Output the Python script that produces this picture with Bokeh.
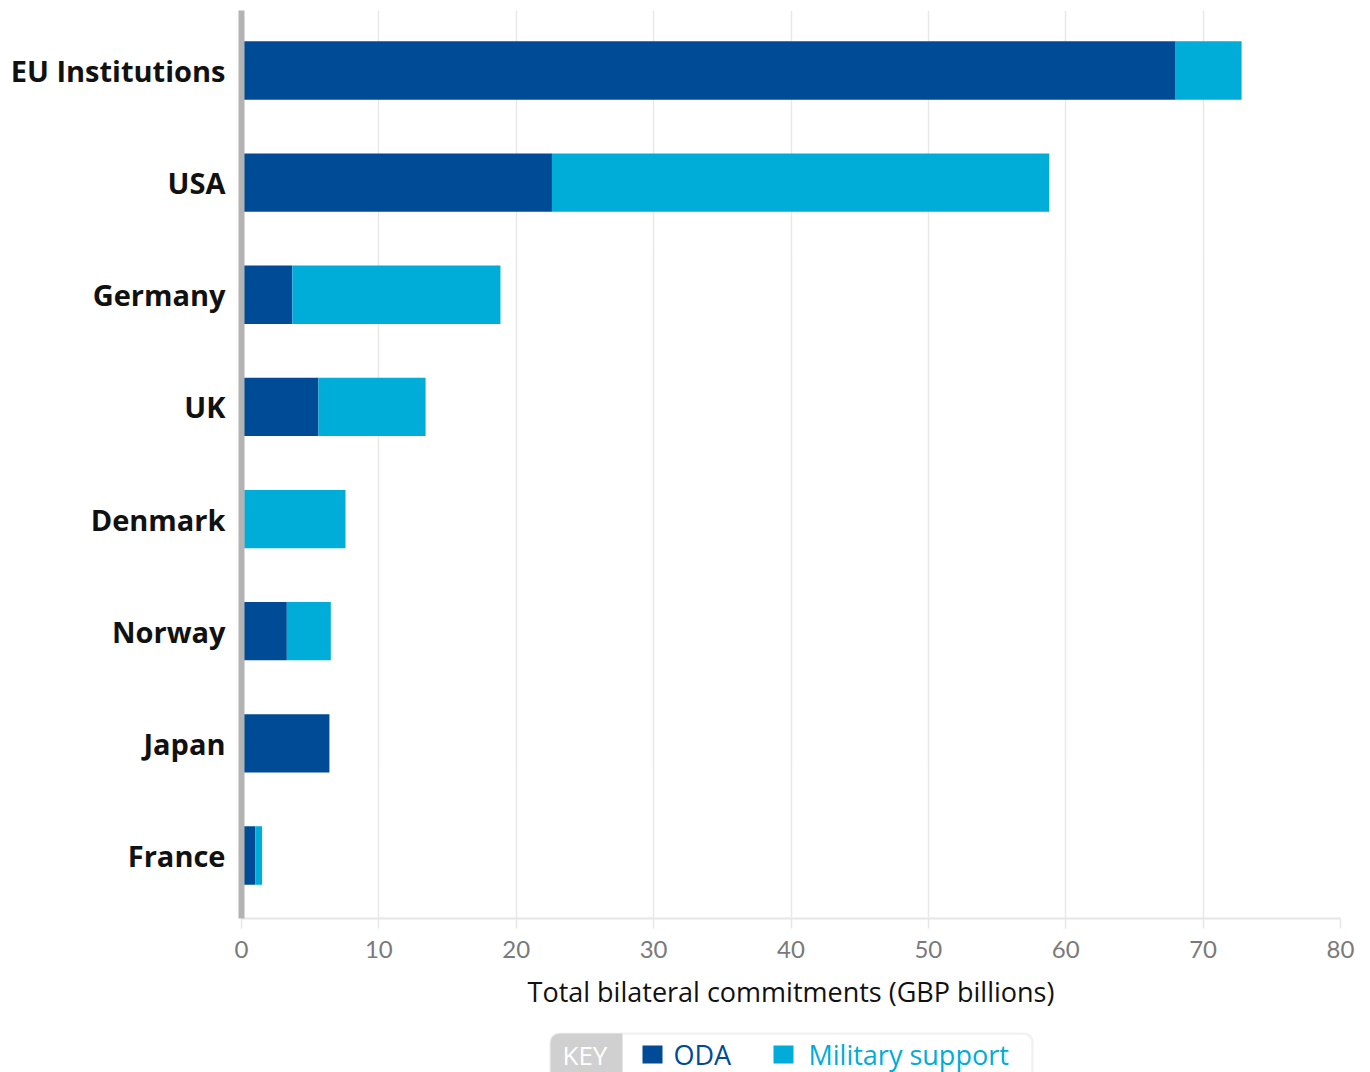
from bokeh.plotting import figure
from bokeh.models import ColumnDataSource, Range1d, FixedTicker, BoxAnnotation
from bokeh.layouts import column
from bokeh.core.properties import value
from bokeh.embed import file_html
from bokeh.resources import INLINE

countries = ["EU Institutions", "USA", "Germany", "UK", "Denmark", "Norway", "Japan", "France"]
oda = [68.0, 22.6, 3.7, 5.6, 0.2, 3.3, 6.4, 1.0]
military = [4.8, 36.2, 15.15, 7.8, 7.37, 3.2, 0.0, 0.5]
x_ticks = [0, 10, 20, 30, 40, 50, 60, 70, 80]

DARK = "#004b96"
LIGHT = "#00acd8"
FONT = "Open Sans"
TICKFONT = "Lato"

n = len(countries)
ypos = [n - 1 - i for i in range(n)]
total = [a + b for a, b in zip(oda, military)]
src = ColumnDataSource(dict(y=ypos, country=countries, oda=oda, mil=military,
                            zero=[0] * n, total=total))

p = figure(width=1370, height=1032, output_backend="svg", toolbar_location=None,
           x_range=Range1d(0, 80), y_range=Range1d(-0.562, 7.535),
           min_border_left=241, min_border_right=30, min_border_top=10, min_border_bottom=114)
p.outline_line_color = None
p.background_fill_color = "white"
p.border_fill_color = "white"

p.hbar(y="y", left="zero", right="oda", height=0.52, source=src, fill_color=DARK, line_color=None)
p.hbar(y="y", left="oda", right="total", height=0.52, source=src, fill_color=LIGHT, line_color=None)

# grids
p.ygrid.grid_line_color = None
p.xgrid.grid_line_color = "#e8e8e8"
p.xgrid.grid_line_width = 1.5
p.xgrid.ticker = FixedTicker(ticks=x_ticks)

# x axis
xa = p.xaxis[0]
xa.ticker = FixedTicker(ticks=x_ticks)
xa.axis_line_color = "#e6e6e6"
xa.axis_line_width = 2
xa.major_tick_line_color = "#e6e6e6"
xa.major_tick_line_width = 1.5
xa.major_tick_out = 10
xa.major_tick_in = 0
xa.minor_tick_line_color = None
xa.major_label_standoff = 12
xa.major_label_text_font = TICKFONT
xa.major_label_text_font_size = "24px"
xa.major_label_text_color = "#7a7a7a"
xa.axis_label = "Total bilateral commitments (GBP billions)"
xa.axis_label_text_font = FONT
xa.axis_label_text_font_size = "27px"
xa.axis_label_text_font_style = "normal"
xa.axis_label_text_color = "#111111"
xa.axis_label_standoff = 12

# y axis
ya = p.yaxis[0]
ya.ticker = FixedTicker(ticks=ypos)
ya.major_label_overrides = {y: c for y, c in zip(ypos, countries)}
ya.axis_line_color = "#b3b3b3"
ya.axis_line_width = 6
ya.major_tick_line_color = None
ya.minor_tick_line_color = None
ya.major_label_standoff = 10
ya.major_label_text_font = FONT
ya.major_label_text_font_size = "29px"
ya.major_label_text_font_style = "bold"
ya.major_label_text_color = "#111111"

# key (frame is aligned with the main frame, so x range spans page pixels 241..1340)
k = figure(width=1370, height=40, output_backend="svg", toolbar_location=None,
           x_range=Range1d(241, 1340), y_range=Range1d(0, 40),
           min_border_left=241, min_border_right=30, min_border_top=0, min_border_bottom=0)
k.axis.visible = False
k.grid.grid_line_color = None
k.outline_line_color = None
k.add_layout(BoxAnnotation(left=550, right=1032, top=39, bottom=-20, fill_color="white",
                           line_color="#cfcfcf", line_width=2.5, border_radius=9, level="underlay"))
k.add_layout(BoxAnnotation(left=550, right=622, top=39, bottom=-20, fill_color="#d0d0d0",
                           fill_alpha=1, line_color=None, border_radius=(9, 0, 0, 9),
                           level="underlay"))
k.text(x=[562], y=[18], text=["KEY"], text_color="white", text_font=value(FONT),
       text_font_size="26px", text_baseline="middle", text_align="left")
k.rect(x=[652, 783], y=[18, 18], width=20, height=18, fill_color=[DARK, LIGHT], line_color=None)
k.text(x=[673], y=[18], text=["ODA"], text_color=DARK, text_font=value(FONT),
       text_font_size="27px", text_baseline="middle", text_align="left")
k.text(x=[808], y=[18], text=["Military support"], text_color=LIGHT, text_font=value(FONT),
       text_font_size="27px", text_baseline="middle", text_align="left")

layout = column(p, k, spacing=0)
open("out.html", "w").write(file_html(layout, INLINE))
